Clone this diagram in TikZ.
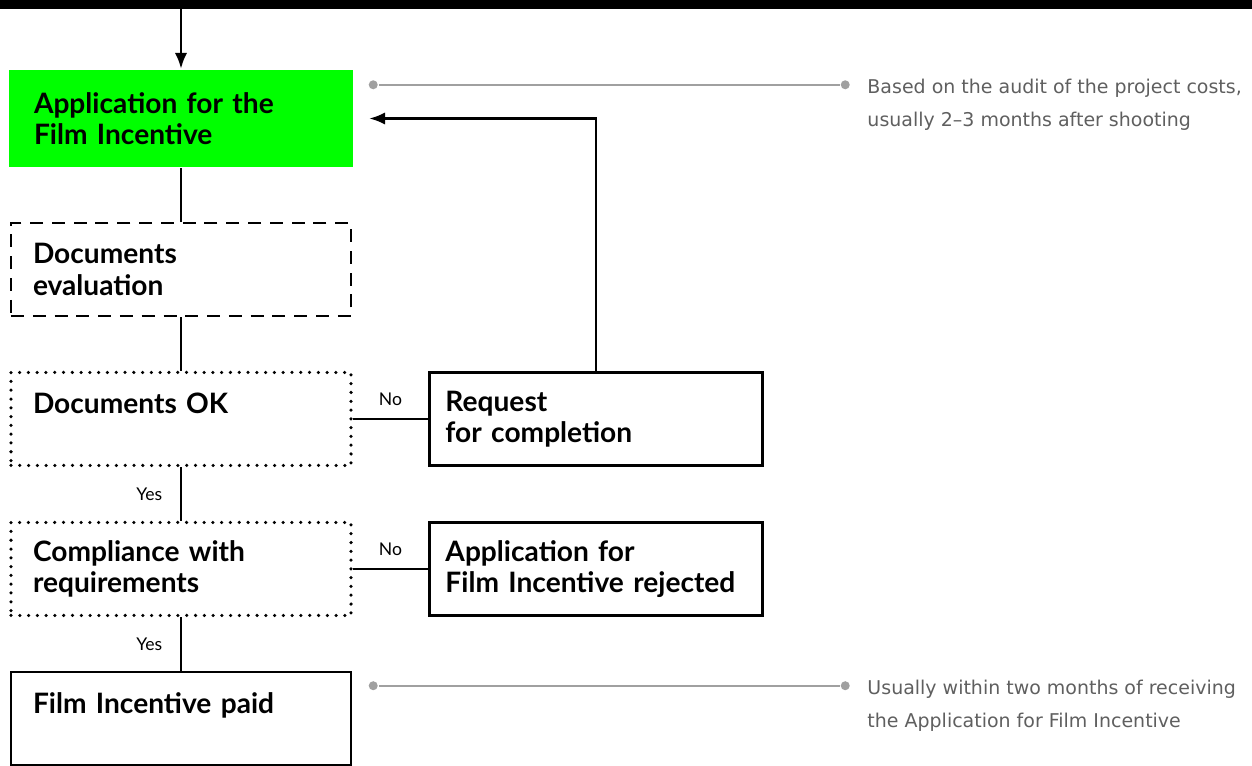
\documentclass[tikz,border=0pt]{standalone}
\usepackage{fontspec}
\setmainfont{Lato}
\newfontfamily\notefont{DejaVu Sans}
\usetikzlibrary{arrows.meta,positioning}
\definecolor{filmgreen}{RGB}{0,255,0}
\definecolor{notegray}{RGB}{95,95,95}
\definecolor{linegray}{RGB}{160,160,160}
\newcommand{\pthyes}[2]{\path (#1) edge node[lbl,left=10pt] {Yes} (#2); }
\newcommand{\pthno}[2]{\path (#1) edge node[lbl,above=7pt] {No} (#2); }

\begin{document}
\begin{tikzpicture}[line width=1.4pt,>={Latex[length=9pt,width=7pt]},node distance=1.07cm and 1.51cm,
  every node/.style={font=\fontsize{16}{17.8}\selectfont\bfseries},
  box/.style={draw,minimum width=6.8cm,minimum height=1.86cm,text width=5.92cm,inner xsep=0.44cm,align=left},
  rbox/.style={box,minimum width=6.66cm,text width=6.02cm,inner xsep=0.32cm},
  dashbox/.style={box,dash pattern=on 7.4pt off 5pt},
  dotbox/.style={box,dash pattern=on 0pt off 5pt,line cap=round,line width=2pt},
  lbl/.style={font=\fontsize{10}{12}\selectfont,inner sep=0pt},
  dot/.style={circle,fill=linegray,draw=none,minimum size=0.18cm,inner sep=0pt},
  note/.style={font=\notefont\fontsize{10.8}{18.7}\selectfont,text=notegray,align=left,inner sep=0pt,anchor=north west},
  guide/.style={draw=linegray,line width=0.9pt}]
  \useasboundingbox (0,0) rectangle (25.04,-15.3);
  \fill (0,0) rectangle (25.04,-0.19);

  \node[box,draw=none,fill=filmgreen,minimum width=6.88cm,minimum height=1.94cm,text width=5.88cm,inner xsep=0.5cm] (app) at (3.62,-2.37) {Application for the\\Film Incentive};
  \node[dashbox] (eval) [below=of app] {Documents\\evaluation};
  \node[dotbox] (ok) [below=of eval] {Documents OK\\\mbox{}};
  \node[dotbox] (comp) [below=of ok] {Compliance with\\requirements};
  \node[box] (paid) [below=of comp] {Film Incentive paid\\\mbox{}};
  \node[rbox] (req) [right=of ok] {Request\\for completion};
  \node[rbox] (rej) [right=of comp] {Application for\\Film Incentive rejected};

  \coordinate (top) at (app.north |- 0,-0.19);
  \draw[->] (top) -- (app);
  \draw (app) -- (eval);
  \draw (eval) -- (ok);
  \pthyes{ok}{comp}
  \pthyes{comp}{paid}
  \pthno{ok}{req}
  \pthno{comp}{rej}
  \draw[->,shorten >=0.3cm] (req) |- (app);

  % notes on the right
  \node[dot] (s1) at ([xshift=0.38cm,yshift=-0.32cm]app.north east) {};
  \node[dot] (e1) at ([xshift=9.44cm]s1) {};
  \draw[guide] (s1) -- (e1);
  \node[note] (n1) at ([xshift=0.42cm,yshift=0.14cm]e1) {Based on the audit of the project costs,\\usually 2–3 months after shooting};
  \node[dot] (s2) at ([xshift=0.42cm,yshift=-0.3cm]paid.north east) {};
  \node[dot] (e2) at ([xshift=9.44cm]s2) {};
  \draw[guide] (s2) -- (e2);
  \node[note] (n2) at ([xshift=0.42cm,yshift=0.14cm]e2) {Usually within two months of receiving\\the Application for Film Incentive};
\end{tikzpicture}
\end{document}
